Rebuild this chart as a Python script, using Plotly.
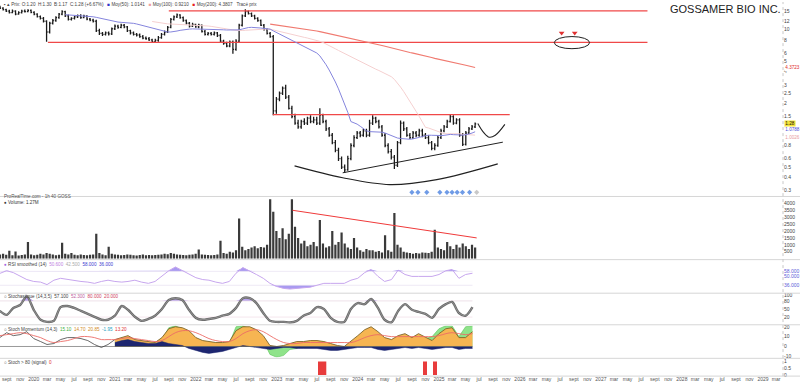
import numpy as np
import pandas as pd
import plotly.graph_objects as go

# ---------------- data ----------------
bar_start = "2019-08-02"   # biweekly bars
opens = [16.3,16.0,15.5,15.0,14.5,15.0,14.0,14.5,15.0,14.8,
         15.2,14.6,14.0,13.3,12.8,12.0,9.5,11.5,12.2,13.0,
         14.0,14.8,13.5,12.5,12.8,13.2,13.6,13.0,13.4,12.6,
         12.3,12.0,9.8,9.2,9.0,9.3,9.1,10.2,10.8,10.5,
         11.0,10.6,9.8,9.3,9.0,8.9,8.6,8.3,8.2,8.0,
         7.7,7.9,8.4,9.0,9.5,10.5,12.5,13.2,13.8,13.0,
         12.2,11.5,10.8,11.2,10.6,11.0,9.6,9.0,9.2,9.0,
         9.3,8.8,7.8,7.4,7.0,7.6,6.5,7.8,11.0,13.5,
         14.8,14.2,13.5,12.8,12.2,11.0,10.0,9.2,8.6,1.7,
         2.2,2.5,2.8,2.3,1.8,1.5,1.3,1.2,1.35,1.3,
         1.45,1.35,1.4,1.3,1.55,1.35,1.15,1.0,0.85,0.72,
         0.6,0.5,0.47,0.6,0.8,0.95,1.05,1.0,1.1,1.0,
         1.3,1.45,1.35,1.2,1.0,0.8,0.7,0.62,0.52,0.85,
         1.3,1.15,1.0,0.95,1.05,1.0,1.1,1.0,0.95,0.85,
         0.75,0.8,0.95,1.1,1.2,1.35,1.5,1.3,1.4,1.0,
         0.82,1.05,1.15,1.2]
highs = [16.8,16.3,15.8,15.4,15.5,15.3,14.9,15.4,15.5,15.6,
         15.5,14.9,14.3,13.6,13.2,12.3,11.9,12.6,13.4,14.4,
         15.3,15.1,13.9,13.1,13.5,13.9,14.0,13.8,13.7,12.9,
         12.7,12.4,10.2,9.5,9.6,9.6,10.5,11.2,11.1,11.4,
         11.3,10.8,10.0,9.6,9.3,9.2,8.9,8.6,8.5,8.2,
         8.2,8.7,9.3,9.8,10.8,12.9,13.6,14.2,14.0,13.3,
         12.5,11.8,11.6,11.4,11.4,11.2,9.9,9.5,9.5,9.6,
         9.5,9.1,8.0,7.7,7.9,7.9,8.1,11.4,13.9,15.6,
         15.2,14.5,13.8,13.1,12.5,11.3,10.3,9.5,8.9,2.3,
         2.6,2.9,3.0,2.4,1.9,1.6,1.4,1.4,1.45,1.5,
         1.55,1.5,1.5,1.8,1.6,1.4,1.2,1.05,0.9,0.76,
         0.63,0.53,0.64,0.84,1.0,1.1,1.1,1.15,1.15,1.4,
         1.55,1.5,1.4,1.25,1.05,0.84,0.74,0.65,0.88,1.38,
         1.35,1.2,1.05,1.1,1.1,1.15,1.15,1.05,1.0,0.88,
         0.84,1.0,1.15,1.25,1.4,1.56,1.55,1.45,1.45,1.05,
         1.1,1.2,1.25,1.32]
lows = [15.7,15.2,14.7,14.2,14.3,13.7,13.8,14.2,14.5,14.6,
        14.3,13.7,13.0,12.5,11.7,7.7,9.2,11.2,11.9,12.7,
        13.7,13.2,12.2,12.2,12.5,12.9,12.7,12.8,12.3,12.0,
        11.7,9.5,8.9,8.7,8.8,8.8,8.9,9.9,10.2,10.3,
        10.3,9.5,9.0,8.8,8.6,8.4,8.1,8.0,7.8,7.5,
        7.5,7.7,8.2,8.8,9.3,10.3,12.2,12.9,12.7,11.9,
        11.2,10.5,10.6,10.4,10.3,9.4,8.8,8.8,8.8,8.8,
        8.5,7.6,7.2,6.8,6.8,5.9,6.3,7.6,10.7,13.2,
        13.9,13.2,12.5,11.9,10.8,9.8,9.0,8.4,1.55,1.6,
        2.1,2.4,2.2,1.75,1.45,1.26,1.15,1.15,1.25,1.25,
        1.3,1.3,1.25,1.25,1.3,1.1,0.97,0.82,0.69,0.57,
        0.48,0.44,0.46,0.58,0.77,0.92,0.96,0.97,0.96,0.97,
        1.25,1.3,1.16,0.97,0.77,0.67,0.59,0.48,0.5,0.82,
        1.1,0.97,0.92,0.92,0.96,0.97,0.96,0.92,0.82,0.72,
        0.72,0.78,0.92,1.07,1.17,1.32,1.26,1.27,0.97,0.79,
        0.8,1.02,1.12,1.17]
closes = [16.0,15.5,15.0,14.5,15.0,14.0,14.5,15.0,14.8,15.2,
          14.6,14.0,13.3,12.8,12.0,9.5,11.5,12.2,13.0,14.0,
          14.8,13.5,12.5,12.8,13.2,13.6,13.0,13.4,12.6,12.3,
          12.0,9.8,9.2,9.0,9.3,9.1,10.2,10.8,10.5,11.0,
          10.6,9.8,9.3,9.0,8.9,8.6,8.3,8.2,8.0,7.7,
          7.9,8.4,9.0,9.5,10.5,12.5,13.2,13.8,13.0,12.2,
          11.5,10.8,11.2,10.6,11.0,9.6,9.0,9.2,9.0,9.3,
          8.8,7.8,7.4,7.0,7.6,6.5,7.8,11.0,13.5,14.8,
          14.2,13.5,12.8,12.2,11.0,10.0,9.2,8.6,1.7,2.2,
          2.5,2.8,2.3,1.8,1.5,1.3,1.2,1.35,1.3,1.45,
          1.35,1.4,1.3,1.55,1.35,1.15,1.0,0.85,0.72,0.6,
          0.5,0.47,0.6,0.8,0.95,1.05,1.0,1.1,1.0,1.3,
          1.45,1.35,1.2,1.0,0.8,0.7,0.62,0.52,0.85,1.3,
          1.15,1.0,0.95,1.05,1.0,1.1,1.0,0.95,0.85,0.75,
          0.8,0.95,1.1,1.2,1.35,1.5,1.3,1.4,1.0,0.82,
          1.05,1.15,1.2,1.28]
volumes = [300,350,280,570,250,520,220,260,300,1200,
           300,250,280,350,300,400,350,300,250,280,
           1150,350,300,400,280,250,300,260,250,280,
           300,1800,400,300,250,860,350,300,280,250,
           260,300,280,250,230,260,300,250,270,240,
           260,280,300,350,320,400,350,300,280,260,
           250,280,300,350,660,300,280,260,250,270,
           300,1300,400,350,500,450,600,2900,860,600,
           700,800,900,750,850,800,1000,4300,3400,2000,
           1500,2200,1400,1800,4300,2300,1500,1100,1300,900,
           1000,1200,900,2800,1100,800,900,2000,1000,1200,
           1900,1100,800,700,1500,800,600,500,700,600,
           600,500,550,450,1700,600,500,3300,1000,800,
           500,450,400,350,400,380,450,420,400,500,
           2100,800,700,600,1200,900,700,1000,800,1100,
           900,700,1000,800]

# monthly indicator readings
ind_start = "2019-08-01"
rsi_vals = [54.7,59,56,50,45,42,41,37,44,47,
            45,44,42,41,39,42,44,42,41,42,
            44,41,39,42,50,59,65,59,53,48,
            45,44,41,39,42,55,64,59,53,47,
            39,34,31,30,31,31,33,36,39,39,
            39,39,44,47,56,61,50,42,45,60,
            53,50,50,50,50,53,59,61,47,53,
            55]
rsi_upper, rsi_lower = 58, 36
stoch_vals = [43,28,54,65,97,47,10,2,6,57,
              61,54,43,32,21,10,10,25,61,47,
              21,6,13,25,50,83,90,83,47,17,
              10,13,17,25,32,54,90,90,72,35,
              6,2,2,0,6,25,35,57,50,17,
              2,2,50,72,68,87,54,10,0,43,
              68,47,39,32,17,50,68,76,35,25,
              57]
stoch_upper, stoch_lower = 80, 20
mom_black = [9,14,11,12,15,8,5,2,3,7,9,9,8,6,2,-1,2,7]          # months 0..17
mom_orange = [7,9,11,7,6,5,4,9,18,20,19,16,9,6,5,4,4,5,16,20,
              20,17,11,1,0,1,3,5,5,6,6,5,3,1,0,5,11,17,20,15,
              9,7,11,13,9,13,9,6,13,18,19,9,9,15]               # months 17..70
mom_green = [5,7,9,5,4,3,2,7,19,21,17,14,7,4,3,2,2,3,20,21,
             18,15,6,-8,-11,-9,-3,-2,3,4,4,3,1,-1,-2,3,9,15,18,13,
             7,5,9,11,7,11,8,10,18,21,21,10,20,21]
mom_navy = [4,6,7,5,4,3,3,5,3,2,1,-2,-4,-6,-7,-6,-5,-3,-1,1,
            0,-1,-2,-3,-2,-1,-1,-2,-2,-2,-2,-3,-4,-4,-3,-2,-1,-1,-1,-3,
            -4,-3,-2,-1,-2,-1,-2,-3,-2,-1,-1,-3,-2,-2]
mom_red = [11,12,13,14,13,11,9,6,4,5,6,8,10,10,9,7,7,7,8,9,
           8,7,6,5,6,10,14,16,16,14,11,8,6,5,5,8,13,16,17,15,
           11,7,4,3,3,4,4,4,4,4,4,4,4,6,9,11,12,11,10,10,
           10,10,10,10,10,11,13,14,13,12,13]
signal_dates = ["2023-07-10","2023-07-20","2023-07-30","2023-08-09",
                "2024-10-25","2024-11-04","2024-12-10","2024-12-18"]

# drawn analysis objects
hline_top_dates = ["2021-09-01", "2027-07-30"];  hline_top_level = 15.05
hline_mid_dates = ["2020-03-05", "2027-07-30"];  hline_mid_level = 7.56
hline_res_dates = ["2022-12-14", "2025-11-16"];  hline_res_level = 1.57
trend_dates = ["2023-10-25", "2025-10-16"];      trend_prices = [0.441, 0.86]
arc_dates = ["2023-03-22", "2023-10-25", "2024-05-24", "2024-12-22", "2025-09-23"]
arc_prices = [0.513, 0.396, 0.341, 0.38, 0.536]
cup_dates = ["2025-06-25", "2025-07-21", "2025-08-16", "2025-09-12", "2025-10-25"]
cup_prices = [1.295, 1.067, 0.958, 1.0, 1.267]
ellipse_dates = ["2026-06-05", "2026-11-11"];    ellipse_prices = [6.6, 8.6]
arrow_dates = ["2026-07-08", "2026-09-05"];      arrow_price = 9.3
vol_trend_dates = ["2023-03-13", "2025-06-20"];  vol_trend_vals = [3500, 1500]
event_dates = ["2024-09-01","2024-09-28","2024-11-07","2025-01-05","2025-02-06",
               "2025-03-01","2025-03-24","2025-04-17","2025-05-19","2025-06-20"]

price_ticks = [0.3,0.4,0.5,0.6,0.8,1.5,2,2.5,3,4,5,6,8,10,12,15]
vol_ticks = [500,1000,1500,2000,2500,3000,3500,4000]

# ---------------- figure ----------------
bar_dates = pd.date_range(bar_start, periods=len(closes), freq="14D")
ind_dates = pd.date_range(ind_start, periods=len(rsi_vals), freq="MS")
cs = pd.Series(closes)
ma_blue = cs.rolling(26, min_periods=22).mean()
ma_pink = cs.rolling(50, min_periods=50).mean()
ma_red = cs.rolling(100, min_periods=88).mean()

fig = go.Figure()
FS = 5
DAY = 86400000

# price panel
fig.add_trace(go.Scatter(x=hline_top_dates, y=[hline_top_level]*2, mode="lines",
                         line=dict(color="#f04848", width=1.3), yaxis="y"))
fig.add_trace(go.Scatter(x=hline_mid_dates, y=[hline_mid_level]*2, mode="lines",
                         line=dict(color="#f04848", width=1.3), yaxis="y"))
fig.add_trace(go.Scatter(x=hline_res_dates, y=[hline_res_level]*2, mode="lines",
                         line=dict(color="#f04848", width=1.3), yaxis="y"))
fig.add_trace(go.Scatter(x=bar_dates, y=ma_pink, mode="lines",
                         line=dict(color="#f5d0d0", width=1), yaxis="y"))
fig.add_trace(go.Scatter(x=bar_dates, y=ma_red, mode="lines",
                         line=dict(color="#f07a70", width=1.1), yaxis="y"))
fig.add_trace(go.Scatter(x=bar_dates, y=ma_blue, mode="lines",
                         line=dict(color="#8585dd", width=1), yaxis="y"))
fig.add_trace(go.Ohlc(x=bar_dates, open=opens, high=highs, low=lows, close=closes,
                      increasing_line_color="#1a1a1a", decreasing_line_color="#1a1a1a",
                      line_width=1.3, tickwidth=0.35, yaxis="y", xaxis="x"))
fig.add_trace(go.Scatter(x=trend_dates, y=trend_prices, mode="lines",
                         line=dict(color="#222", width=1), yaxis="y"))
fig.add_trace(go.Scatter(x=arc_dates, y=arc_prices, mode="lines",
                         line=dict(color="#222", width=1.1, shape="spline"), yaxis="y"))
fig.add_trace(go.Scatter(x=cup_dates, y=cup_prices, mode="lines",
                         line=dict(color="#222", width=1.1, shape="spline"), yaxis="y"))
fig.add_trace(go.Scatter(x=arrow_dates, y=[arrow_price]*2, mode="markers",
                         marker=dict(symbol="triangle-down", size=5, color="#e03030"), yaxis="y"))
fig.add_trace(go.Scatter(x=event_dates, y=[0.288]*len(event_dates), mode="markers",
                         marker=dict(symbol="diamond", size=4,
                                     color=["#6f9be6"]*(len(event_dates)-1) + ["#c8c8c8"]), yaxis="y"))

# volume
fig.add_trace(go.Bar(x=bar_dates, y=volumes, width=10*DAY, marker_color="#3a3a3a",
                     marker_line_width=0, yaxis="y2"))
fig.add_trace(go.Scatter(x=vol_trend_dates, y=vol_trend_vals, mode="lines",
                         line=dict(color="#f03a3a", width=1), yaxis="y2"))

# RSI-type panel
rsi = np.array(rsi_vals, dtype=float)
fig.add_trace(go.Scatter(x=ind_dates, y=[rsi_upper]*len(rsi), mode="lines",
                         line=dict(color="#e6e0f0", width=0.7), yaxis="y3"))
fig.add_trace(go.Scatter(x=ind_dates, y=np.maximum(rsi, rsi_upper), mode="lines", fill="tonexty",
                         fillcolor="rgba(140,120,235,0.75)", line=dict(width=0), yaxis="y3"))
fig.add_trace(go.Scatter(x=ind_dates, y=[rsi_lower]*len(rsi), mode="lines",
                         line=dict(color="#e6e0f0", width=0.7), yaxis="y3"))
fig.add_trace(go.Scatter(x=ind_dates, y=np.minimum(rsi, rsi_lower), mode="lines", fill="tonexty",
                         fillcolor="rgba(140,120,235,0.75)", line=dict(width=0), yaxis="y3"))
fig.add_trace(go.Scatter(x=ind_dates, y=rsi, mode="lines",
                         line=dict(color="#c7a6ee", width=1), yaxis="y3"))

# stochastic panel
st = np.array(stoch_vals, dtype=float)
fig.add_trace(go.Scatter(x=ind_dates, y=[stoch_upper]*len(st), mode="lines",
                         line=dict(color="#e8d6e0", width=0.7), yaxis="y4"))
fig.add_trace(go.Scatter(x=ind_dates, y=np.maximum(st, stoch_upper), mode="lines", fill="tonexty",
                         fillcolor="rgba(165,140,235,0.8)", line=dict(width=0), yaxis="y4"))
fig.add_trace(go.Scatter(x=ind_dates, y=[stoch_lower]*len(st), mode="lines",
                         line=dict(color="#f0dde6", width=0.7), yaxis="y4"))
fig.add_trace(go.Scatter(x=ind_dates, y=st, mode="lines",
                         line=dict(color="#6a6a6a", width=2.4, shape="spline", smoothing=0.8), yaxis="y4"))
fig.add_trace(go.Scatter(x=ind_dates, y=st, mode="lines",
                         line=dict(color="#9a9a9a", width=0.8, shape="spline", smoothing=0.8), yaxis="y4"))

# momentum panel
late_dates = ind_dates[17:]
fig.add_trace(go.Scatter(x=late_dates, y=mom_green, mode="lines", fill="tozeroy",
                         fillcolor="#8fe38a", line=dict(color="#5cc45a", width=0.6), yaxis="y5"))
fig.add_trace(go.Scatter(x=late_dates, y=mom_orange, mode="lines", fill="tozeroy",
                         fillcolor="#f6b552", line=dict(color="#7d6428", width=0.9), yaxis="y5"))
fig.add_trace(go.Scatter(x=late_dates, y=mom_navy, mode="lines", fill="tozeroy",
                         fillcolor="#1d2670", line=dict(color="#1d2670", width=0.5), yaxis="y5"))
fig.add_trace(go.Scatter(x=[ind_dates[0], ind_dates[-1]], y=[0, 0], mode="lines",
                         line=dict(color="#555", width=0.6), yaxis="y5"))
fig.add_trace(go.Scatter(x=ind_dates[:18], y=mom_black, mode="lines",
                         line=dict(color="#444", width=0.8), yaxis="y5"))
fig.add_trace(go.Scatter(x=ind_dates, y=mom_red, mode="lines",
                         line=dict(color="#ec6c66", width=0.9, shape="spline"), yaxis="y5"))

# signal panel
fig.add_trace(go.Bar(x=signal_dates, y=[1]*len(signal_dates), width=6*DAY,
                     marker_color="#e83c3c", marker_line_width=0, yaxis="y6"))

# ---------------- layout ----------------
def py(p):
    return 1 - p / 387.0

XR = 783 / 800.0
tickvals, ticktext = [], []
for d in pd.date_range("2019-09-01", "2029-03-01", freq="2MS"):
    tickvals.append(d)
    ticktext.append({9: "sept", 11: "nov", 1: str(d.year), 3: "mar", 5: "may", 7: "jul"}[d.month])

yax = dict(side="right", anchor="x", showgrid=False, zeroline=False, ticks="",
           tickfont=dict(size=FS, color="#444"), showline=False, fixedrange=True)

fig.update_layout(
    width=800, height=387, margin=dict(l=0, r=0, t=0, b=0),
    paper_bgcolor="white", plot_bgcolor="white", showlegend=False,
    barmode="overlay", font=dict(family="Liberation Sans, Arial, sans-serif"),
    xaxis=dict(domain=[0, XR], type="date", range=["2019-08-02", "2029-04-01"], anchor="y6",
               tickvals=tickvals, ticktext=ticktext, tickfont=dict(size=FS, color="#555"),
               showgrid=False, zeroline=False, ticks="", showline=False,
               rangeslider=dict(visible=False)),
    yaxis=dict(yax, domain=[py(196), py(3)], type="log",
               range=[-61 / 107, 132 / 107],
               tickvals=price_ticks, ticktext=[str(v) for v in price_ticks]),
    yaxis2=dict(yax, domain=[py(260), py(198)], range=[0, 4430],
                tickvals=vol_ticks, ticktext=[str(v) for v in vol_ticks]),
    yaxis3=dict(yax, domain=[py(294), py(262)], range=[25, 75],
                tickvals=[rsi_lower, 50, rsi_upper], ticktext=["36.000", "50.000", "58.000"],
                tickfont=dict(size=FS, color="#5a5ad8")),
    yaxis4=dict(yax, domain=[py(326), py(296)], range=[-5, 105],
                tickvals=[20, 50, 80, 100], ticktext=["20", "50", "80", "100"]),
    yaxis5=dict(yax, domain=[py(360), py(328)], range=[-11, 21],
                tickvals=[-10, 0, 10, 20], ticktext=["-10", "0", "10", "20"]),
    yaxis6=dict(yax, domain=[py(378), py(362)], range=[0, 1.15],
                tickvals=[0, 0.5, 1], ticktext=["0", "0.5", "1"]),
)

# separators
shapes = []
for p in [197, 261, 295, 327, 361, 379]:
    shapes.append(dict(type="line", xref="paper", yref="paper", x0=0, x1=1, y0=py(p), y1=py(p),
                       line=dict(color="#d6d6d6", width=1)))
shapes.append(dict(type="line", xref="paper", yref="paper", x0=XR, x1=XR, y0=py(379), y1=1,
                   line=dict(color="#c8c8c8", width=1, dash="dot")))
# shapes on this log axis take plain data values
shapes.append(dict(type="circle", xref="x", yref="y",
                   x0=ellipse_dates[0], x1=ellipse_dates[1],
                   y0=ellipse_prices[0], y1=ellipse_prices[1],
                   line=dict(color="#222", width=1)))
fig.update_layout(shapes=shapes)

ann = []
def txt(x, y, s, size=4.6, color="#333", xanchor="left"):
    ann.append(dict(xref="paper", yref="paper", x=x, y=y, text=s, showarrow=False,
                    xanchor=xanchor, yanchor="middle", font=dict(size=size, color=color)))

txt(783 / 800, py(7), "GOSSAMER BIO INC.", size=11, color="#222", xanchor="right")
txt(0.002, py(3), "▪ ▴ Prix: O:1.20  H:1.30  B:1.17  C:1.28 (+6.67%)   "
    "<span style='color:#3434c8'>■</span> Moy(50): 1.0141   "
    "<span style='color:#f0a0a0'>■</span> Moy(100): 0.9210   "
    "<span style='color:#e82020'>■</span> Moy(200): 4.3807   Tracé prix", color="#444")
txt(0.002, py(197.5), "ProRealTime.com - 1h 40 GOSS", color="#555")
txt(0.002, py(203.5), "● Volume: 1.27M", color="#333")
txt(0.002, py(265.5), "<span style='color:#a060e0'>●</span> RSI smoothed (14)  "
    "<span style='color:#c080e0'>50.600</span>  <span style='color:#aaa'>42.500</span>  "
    "<span style='color:#3a3ad0'>58.000  36.000</span>", color="#444")
txt(0.002, py(298.5), "○ Stochastique (14,3,5)  57.100  <span style='color:#c060a0'>52.300</span>  "
    "<span style='color:#d04060'>80.000  20.000</span>", color="#444")
txt(0.002, py(331.5), "○ Stoch Momentum (14,3)  <span style='color:#40b040'>15.10</span>  "
    "<span style='color:#d08a20'>14.70  20.85</span>  <span style='color:#20a0c0'>-1.95</span>  "
    "<span style='color:#e03030'>13.20</span>", color="#444")
txt(0.002, py(365.5), "○ Stoch > 80 (signal)  <span style='color:#e03030'>0</span>", color="#444")

# right-edge value labels (annotations on a log axis take log10 values)
def vlabel(val, s, bg, fg, shift=0):
    ann.append(dict(xref="paper", yref="y", x=XR + 0.001, y=np.log10(val), text=s, showarrow=False,
                    xanchor="left", yanchor="middle", bgcolor=bg, borderpad=0.3, yshift=shift,
                    font=dict(size=4.6, color=fg)))

vlabel(closes[-1], f"{closes[-1]:.2f}", "#f3e23a", "#111")
vlabel(ma_blue.iloc[-1], f"{ma_blue.iloc[-1]:.4f}", "white", "#4a4ad8", shift=2)
vlabel(ma_pink.iloc[-1], f"{ma_pink.iloc[-1]:.4f}", "white", "#e89aa0", shift=-3)
vlabel(ma_red.iloc[-1], f"{ma_red.iloc[-1]:.4f}", "white", "#e02a2a")
fig.update_layout(annotations=ann)

fig.write_html("out.html")
